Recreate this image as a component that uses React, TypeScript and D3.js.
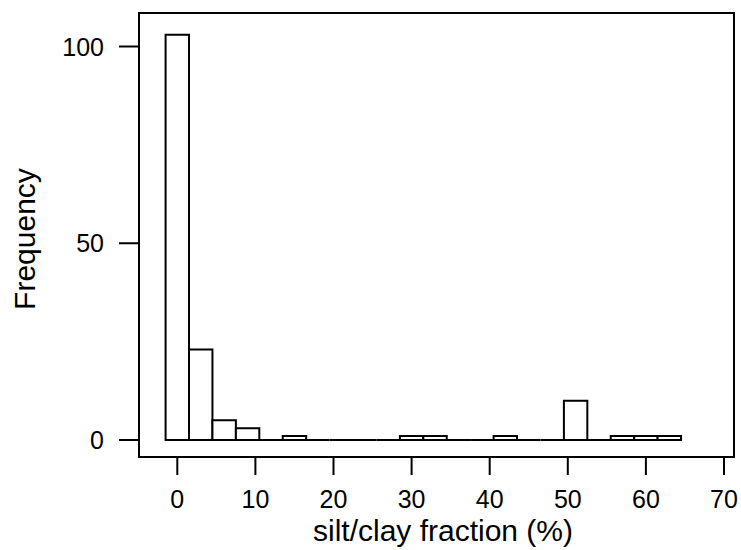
import React from "react";
import * as d3 from "d3";

const binEdges = [-1.5, 1.5, 4.5, 7.5, 10.5, 13.5, 16.5, 19.5, 22.5, 25.5, 28.5, 31.5, 34.5, 37.5, 40.5, 43.5, 46.5, 49.5, 52.5, 55.5, 58.5, 61.5, 64.5];
const counts = [103, 23, 5, 3, 0, 1, 0, 0, 0, 0, 1, 1, 0, 0, 1, 0, 0, 10, 0, 1, 1, 1];
const xTicks = [0, 10, 20, 30, 40, 50, 60, 70];
const yTicks = [0, 50, 100];
const xLabel = "silt/clay fraction (%)";
const yLabel = "Frequency";

const W = 741;
const H = 550;
const box = { left: 139, right: 734, top: 13, bottom: 457 };
const FONT = "'Liberation Sans', Arial, Helvetica, sans-serif";

export default function App() {
  const x = d3.scaleLinear().domain([0, 70]).range([177.3, 724]);
  const y = d3.scaleLinear().domain([0, 100]).range([440, 46.5]);

  const bins = counts.map((c, i) => ({ x0: binEdges[i], x1: binEdges[i + 1], c }));
  const barPath = (b: { x0: number; x1: number; c: number }) => {
    const p = d3.path();
    p.moveTo(x(b.x0), y(0));
    p.lineTo(x(b.x0), y(b.c));
    p.lineTo(x(b.x1), y(b.c));
    p.lineTo(x(b.x1), y(0));
    p.closePath();
    return p.toString();
  };

  return (
    <svg
      width={W}
      height={H}
      style={{ position: "absolute", left: 0, top: 0, background: "#fff" }}
      fontFamily={FONT}
    >
      <rect x={0} y={0} width={W} height={H} fill="#fff" />
      {bins.map((b, i) => (
        <path
          key={i}
          d={barPath(b)}
          fill="#fff"
          stroke="#000"
          strokeWidth={2}
          strokeLinejoin="miter"
        />
      ))}
      <rect
        x={box.left}
        y={box.top}
        width={box.right - box.left}
        height={box.bottom - box.top}
        fill="none"
        stroke="#000"
        strokeWidth={2}
      />
      {xTicks.map((t) => (
        <g key={"x" + t}>
          <line x1={x(t)} x2={x(t)} y1={box.bottom} y2={475} stroke="#000" strokeWidth={2} />
          <text x={x(t)} y={508} textAnchor="middle" fontSize={25} fill="#000">
            {t}
          </text>
        </g>
      ))}
      {yTicks.map((t) => (
        <g key={"y" + t}>
          <line x1={119} x2={box.left} y1={y(t)} y2={y(t)} stroke="#000" strokeWidth={2} />
          <text x={104} y={y(t)} dy="0.36em" textAnchor="end" fontSize={25} fill="#000">
            {t}
          </text>
        </g>
      ))}
      <text x={443} y={541} textAnchor="middle" fontSize={30} fill="#000">
        {xLabel}
      </text>
      <text
        transform={`translate(35,239) rotate(-90)`}
        textAnchor="middle"
        fontSize={30}
        fill="#000"
      >
        {yLabel}
      </text>
    </svg>
  );
}
